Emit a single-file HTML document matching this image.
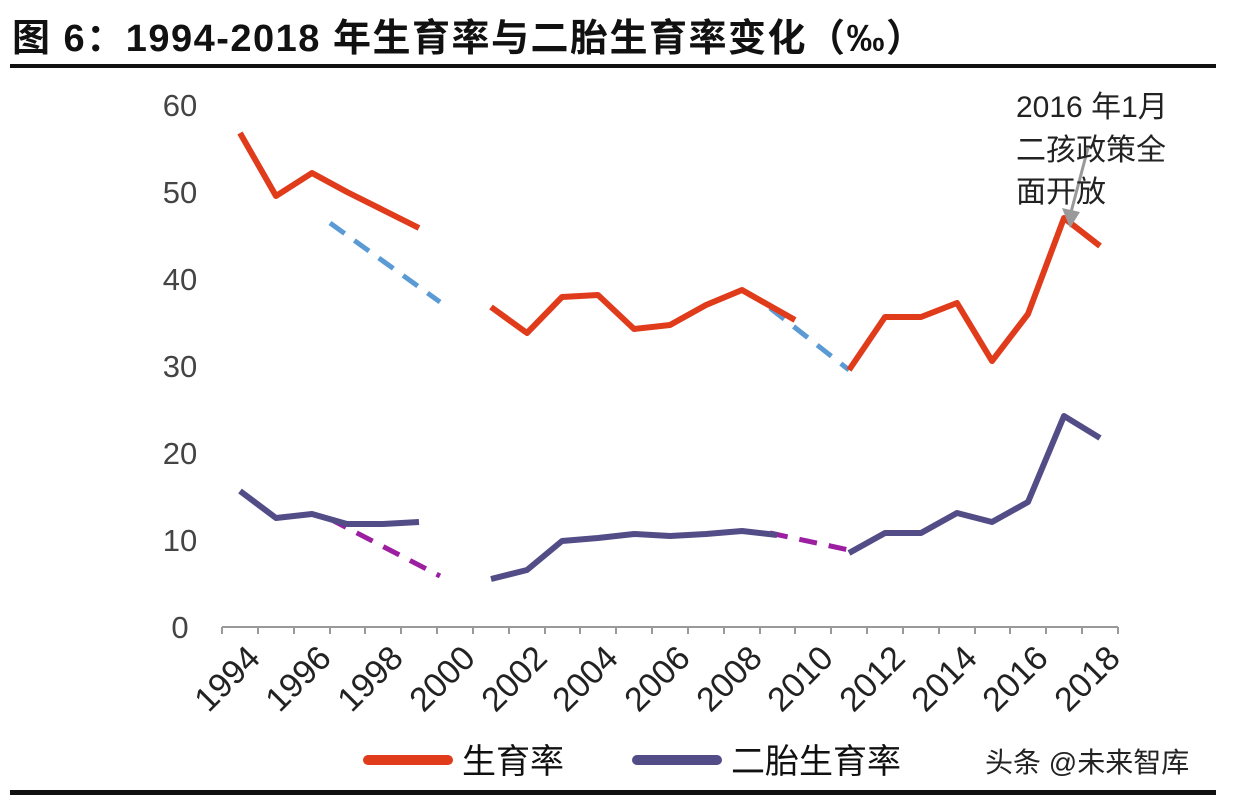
<!DOCTYPE html>
<html><head><meta charset="utf-8"><style>
body{margin:0;background:#fff;width:1234px;height:800px;overflow:hidden;font-family:"Liberation Sans","Noto Sans CJK SC",sans-serif}
</style></head><body>
<svg width="1234" height="800" viewBox="0 0 1234 800" xmlns="http://www.w3.org/2000/svg">
<text x="12" y="51" font-size="38" font-weight="bold" letter-spacing="1.5" font-family="Liberation Sans, Noto Sans CJK SC, sans-serif" fill="#111">图 6：1994-2018 年生育率与二胎生育率变化（‰）</text>
<rect x="10" y="64" width="1206" height="4" fill="#111"/>
<g font-size="31" fill="#444" text-anchor="middle" font-family="Liberation Sans, sans-serif">
<text x="180" y="116">60</text><text x="180" y="203">50</text><text x="180" y="290">40</text><text x="180" y="377">30</text><text x="180" y="464">20</text><text x="180" y="551">10</text><text x="180" y="638">0</text>
</g>
<line x1="222" y1="627" x2="1118" y2="627" stroke="#999" stroke-width="2"/>
<g stroke="#999" stroke-width="2">
<line x1="222" y1="627" x2="222" y2="634"/><line x1="258" y1="627" x2="258" y2="634"/><line x1="294" y1="627" x2="294" y2="634"/><line x1="330" y1="627" x2="330" y2="634"/><line x1="365" y1="627" x2="365" y2="634"/><line x1="401" y1="627" x2="401" y2="634"/><line x1="437" y1="627" x2="437" y2="634"/><line x1="473" y1="627" x2="473" y2="634"/><line x1="509" y1="627" x2="509" y2="634"/><line x1="545" y1="627" x2="545" y2="634"/><line x1="580" y1="627" x2="580" y2="634"/><line x1="616" y1="627" x2="616" y2="634"/><line x1="652" y1="627" x2="652" y2="634"/><line x1="688" y1="627" x2="688" y2="634"/><line x1="724" y1="627" x2="724" y2="634"/><line x1="760" y1="627" x2="760" y2="634"/><line x1="795" y1="627" x2="795" y2="634"/><line x1="831" y1="627" x2="831" y2="634"/><line x1="867" y1="627" x2="867" y2="634"/><line x1="903" y1="627" x2="903" y2="634"/><line x1="939" y1="627" x2="939" y2="634"/><line x1="975" y1="627" x2="975" y2="634"/><line x1="1010" y1="627" x2="1010" y2="634"/><line x1="1046" y1="627" x2="1046" y2="634"/><line x1="1082" y1="627" x2="1082" y2="634"/><line x1="1118" y1="627" x2="1118" y2="634"/>
</g>
<g font-size="34" fill="#222" text-anchor="end" font-family="Liberation Sans, sans-serif">
<text transform="translate(262,660) rotate(-45)">1994</text>
<text transform="translate(333,660) rotate(-45)">1996</text>
<text transform="translate(405,660) rotate(-45)">1998</text>
<text transform="translate(477,660) rotate(-45)">2000</text>
<text transform="translate(549,660) rotate(-45)">2002</text>
<text transform="translate(620,660) rotate(-45)">2004</text>
<text transform="translate(692,660) rotate(-45)">2006</text>
<text transform="translate(764,660) rotate(-45)">2008</text>
<text transform="translate(835,660) rotate(-45)">2010</text>
<text transform="translate(907,660) rotate(-45)">2012</text>
<text transform="translate(979,660) rotate(-45)">2014</text>
<text transform="translate(1050,660) rotate(-45)">2016</text>
<text transform="translate(1122,660) rotate(-45)">2018</text>
</g>
<g fill="none" stroke-width="5" stroke-linejoin="round">
<polyline stroke="#5b9bd5" stroke-dasharray="18,12" points="330,223 440,302"/>
<polyline stroke="#5b9bd5" stroke-dasharray="18,12" points="770,308 849,370"/>
<polyline stroke="#9b1fa0" stroke-dasharray="18,12" points="330,519 440,576"/>
<polyline stroke="#9b1fa0" stroke-dasharray="18,12" points="770,533 849,550"/>
<polyline stroke="#e03c1c" stroke-width="6" points="240,133 276,196 312,173 347,192 383,210 419,228"/>
<polyline stroke="#e03c1c" stroke-width="6" points="491,307 527,333 562,297 598,295 634,329 670,325 706,305 742,290 795,320"/>
<polyline stroke="#e03c1c" stroke-width="6" points="849,370 885,317 921,317 957,303 992,361 1028,314 1064,218 1100,246"/>
<polyline stroke="#524d86" stroke-width="6" points="240,491 276,518 312,514 347,524 383,524 419,522"/>
<polyline stroke="#524d86" stroke-width="6" points="491,579 527,570 562,541 598,538 634,534 670,536 706,534 742,531 777,535"/>
<polyline stroke="#524d86" stroke-width="6" points="849,553 885,533 921,533 957,513 992,522 1028,502 1064,416 1100,438"/>
</g>
<line x1="1088" y1="148" x2="1070" y2="216" stroke="#999" stroke-width="3"/>
<polygon points="1062,208 1070,228 1080,212" fill="#999"/>
<g font-size="30" fill="#222" font-family="Liberation Sans, Noto Sans CJK SC, sans-serif">
<text x="1016" y="117">2016 年1月</text>
<text x="1016" y="160">二孩政策全</text>
<text x="1016" y="202">面开放</text>
</g>
<line x1="368" y1="760" x2="448" y2="760" stroke="#e03c1c" stroke-width="10" stroke-linecap="round"/>
<text x="462" y="773" font-size="34" fill="#111" font-family="Liberation Sans, Noto Sans CJK SC, sans-serif">生育率</text>
<line x1="637" y1="760" x2="717" y2="760" stroke="#524d86" stroke-width="10" stroke-linecap="round"/>
<text x="731" y="773" font-size="34" fill="#111" font-family="Liberation Sans, Noto Sans CJK SC, sans-serif">二胎生育率</text>
<text x="985" y="772" font-size="28" fill="#222" font-family="Liberation Sans, Noto Sans CJK SC, sans-serif">头条 @未来智库</text>
<rect x="10" y="790" width="1206" height="5" fill="#111"/>
</svg>
</body></html>
